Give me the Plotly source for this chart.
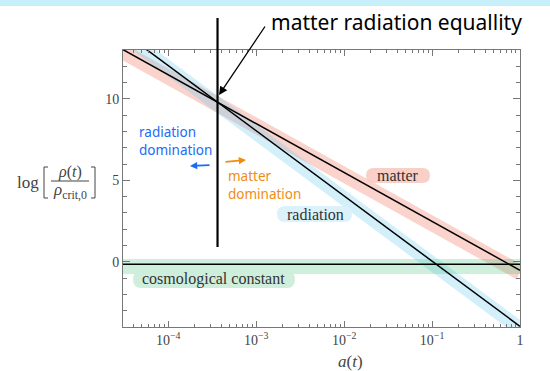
import numpy as np
import plotly.graph_objects as go

# ---- data ----
a_grid = [1e-5, 1.0]
matter_log_rho = [14.48, -0.52]
radiation_log_rho = [16.04, -3.96]
lambda_log_rho = [-0.15, -0.15]

series_labels = ["matter", "radiation", "cosmological constant"]
x_tick_vals = [1e-4, 1e-3, 1e-2, 1e-1, 1]
x_tick_text = ["10<sup>−4</sup>", "10<sup>−3</sup>", "10<sup>−2</sup>", "10<sup>−1</sup>", "1"]
y_tick_vals = [0, 5, 10]

# ---- geometry ----
W, H = 550, 371
ML, MR, MT, MB = 123, 30, 50, 44
PW, PH = W - ML - MR, H - MT - MB
XMIN, XMAX = -4.515, 0.0
YMIN, YMAX = -4.0, 13.0


def px(x):
    return (x - ML) / PW


def py(y):
    return (H - MB - y) / PH


# equality point from the data (lines are straight in log a)
lx = np.log10(a_grid)
sm = (matter_log_rho[1] - matter_log_rho[0]) / (lx[1] - lx[0])
sr = (radiation_log_rho[1] - radiation_log_rho[0]) / (lx[1] - lx[0])
cm = matter_log_rho[0] - sm * lx[0]
cr = radiation_log_rho[0] - sr * lx[0]
L_eq = (cr - cm) / (sm - sr)
xeq_paper = (L_eq - XMIN) / (XMAX - XMIN)
xeq_px = ML + xeq_paper * PW

fig = go.Figure()

shift = -0.14
band_specs = [
    (matter_log_rho, "rgba(240,120,100,0.33)", 15),
    (radiation_log_rho, "rgba(120,205,240,0.33)", 14),
    (lambda_log_rho, "rgba(70,195,125,0.27)", 15),
]
for vals, col, w in band_specs:
    fig.add_trace(go.Scatter(x=a_grid, y=[v + shift for v in vals], mode="lines",
                             line=dict(color=col, width=w), hoverinfo="skip",
                             showlegend=False))
for vals in (matter_log_rho, radiation_log_rho, lambda_log_rho):
    fig.add_trace(go.Scatter(x=a_grid, y=vals, mode="lines",
                             line=dict(color="black", width=1.5),
                             showlegend=False))

serif = "Liberation Serif"
axis_common = dict(showline=True, linecolor="#777", linewidth=1, mirror="ticks",
                   ticks="inside", tickcolor="#777", showgrid=False, zeroline=False,
                   tickfont=dict(family=serif, size=14, color="#444"))

fig.update_xaxes(type="log", range=[XMIN, XMAX], tickvals=x_tick_vals,
                 ticktext=x_tick_text, ticklen=6,
                 minor=dict(ticks="inside", ticklen=3, tickcolor="#777", dtick="D1",
                            showgrid=False),
                 **axis_common)
fig.update_yaxes(range=[YMIN, YMAX], tickvals=y_tick_vals, ticklen=7,
                 minor=dict(ticks="inside", ticklen=4, tickcolor="#777", dtick=1,
                            showgrid=False),
                 **axis_common)


def pill(x0, y0, x1, y1, color):
    r = (y1 - y0) / 2.0
    pts = [
        ("M", x0 + r, y0), ("L", x1 - r, y0), ("Q", x1, y0, x1, y0 + r),
        ("Q", x1, y1, x1 - r, y1), ("L", x0 + r, y1), ("Q", x0, y1, x0, y0 + r),
        ("Q", x0, y0, x0 + r, y0),
    ]
    parts = []
    for p in pts:
        cmd, coords = p[0], p[1:]
        xy = []
        for i in range(0, len(coords), 2):
            xy.append(f"{px(coords[i]):.5f},{py(coords[i + 1]):.5f}")
        parts.append(cmd + " " + " ".join(xy))
    return dict(type="path", xref="paper", yref="paper", path=" ".join(parts) + " Z",
                fillcolor=color, line=dict(width=0), layer="above")


shapes = []
# top cyan bar
shapes.append(dict(type="rect", xref="paper", yref="paper", x0=px(0), x1=px(W),
                   y0=py(6), y1=py(0), fillcolor="#c8f0fb", line=dict(width=0),
                   layer="above"))
# label backgrounds
shapes.append(pill(366, 168, 430, 183, "rgba(247,200,190,0.85)"))
shapes.append(pill(277, 206, 352, 222, "rgba(218,241,250,0.95)"))
shapes.append(pill(133, 271, 295, 288, "rgba(204,237,218,0.95)"))
# vertical equality line
shapes.append(dict(type="line", xref="paper", yref="paper", x0=xeq_paper, x1=xeq_paper,
                   y0=py(247), y1=py(18), line=dict(color="black", width=2.2)))
# y title brackets and fraction bar
shapes.append(dict(type="path", xref="paper", yref="paper",
                   path=f"M {px(48)} {py(167)} L {px(44)} {py(167)} L {px(44)} {py(198)} L {px(48)} {py(198)}",
                   line=dict(color="#444", width=1)))
shapes.append(dict(type="path", xref="paper", yref="paper",
                   path=f"M {px(91)} {py(167)} L {px(95)} {py(167)} L {px(95)} {py(198)} L {px(91)} {py(198)}",
                   line=dict(color="#444", width=1)))
shapes.append(dict(type="line", xref="paper", yref="paper", x0=px(51), x1=px(89),
                   y0=py(181), y1=py(181), line=dict(color="#444", width=1)))


def text_ann(x, y, text, font, xanchor="center", **kw):
    return dict(x=px(x), y=py(y), xref="paper", yref="paper", text=text,
                showarrow=False, font=font, xanchor=xanchor, yanchor="middle", **kw)


def arrow_ann(hx, hy, tx, ty, color, width, size):
    return dict(x=px(hx), y=py(hy), xref="paper", yref="paper",
                ax=tx - hx, ay=ty - hy, text="",
                showarrow=True, arrowhead=2, arrowsize=size, arrowwidth=width,
                arrowcolor=color)


ann = []
lab_font = dict(family=serif, size=16, color="#333")
ann.append(text_ann(398, 175, series_labels[0], lab_font))
ann.append(text_ann(315, 214, series_labels[1], lab_font))
ann.append(text_ann(213, 279, series_labels[2], lab_font))

hand = "Noto Sans"
ann.append(text_ann(396, 22, "matter radiation equallity",
                    dict(family=hand, size=21, color="black")))
ann.append(arrow_ann(xeq_px + 1.5, 95, 266, 25, "black", 1.3, 1.3))
ann.append(text_ann(137, 141, "radiation<br>domination",
                    dict(family=hand, size=13.5, color="#1a6cf5"), xanchor="left",
                    align="left"))
ann.append(arrow_ann(190, 166, 211, 165, "#1a6cf5", 1.8, 0.8))
ann.append(text_ann(226, 185, "matter<br>domination",
                    dict(family=hand, size=13.5, color="#f08c14"), xanchor="left",
                    align="left"))
ann.append(arrow_ann(246, 160, 224, 162, "#f08c14", 1.8, 0.8))

# axis titles
ann.append(text_ann(350, 361, "<i>a</i>(<i>t</i>)",
                    dict(family=serif, size=17, color="#444")))
ann.append(text_ann(28, 182, "log", dict(family=serif, size=17, color="#444")))
ann.append(text_ann(70, 172, "<i>ρ</i>(<i>t</i>)", dict(family=serif, size=16, color="#444")))
ann.append(text_ann(70, 191, "<i>ρ</i><sub>crit,0</sub>",
                    dict(family=serif, size=17, color="#444")))

fig.update_layout(width=W, height=H, margin=dict(l=ML, r=MR, t=MT, b=MB),
                  plot_bgcolor="white", paper_bgcolor="white",
                  shapes=shapes, annotations=ann, showlegend=False)

fig.write_html("out.html", config={"displayModeBar": False},
               post_script="document.body.style.margin='0';document.body.style.padding='0';")
